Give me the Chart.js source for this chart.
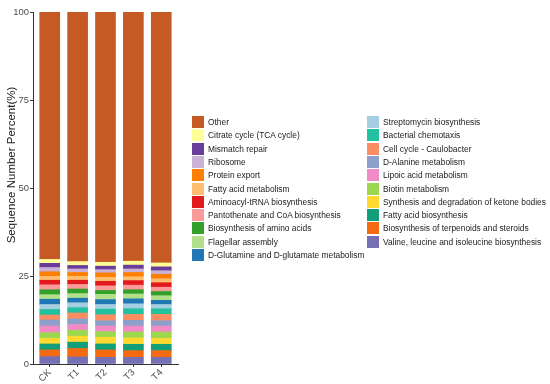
<!DOCTYPE html>
<html>
<head>
<meta charset="utf-8">
<script src="https://cdn.jsdelivr.net/npm/chart.js@4/dist/chart.umd.min.js"></script>
<style>
  html, body { margin: 0; padding: 0; background: #fff; }
  #wrap { position: relative; width: 550px; height: 384px; }
  #c { position: absolute; left: 0; top: 0; }
  .lg { position: absolute; font-family: "Liberation Sans", Arial, sans-serif; font-size: 8.4px; color: #1a1a1a; white-space: nowrap; line-height: 12px; }
  .lg span.box { position: absolute; left: 0; top: 0; width: 12px; height: 12px; }
  .lg span.txt { position: absolute; left: 16px; top: 0; }
</style>
</head>
<body>
<div id="wrap">
  <canvas id="c" width="550" height="384"></canvas>
</div>
<script>
// ---- DATA ----
const categories = ["CK", "T1", "T2", "T3", "T4"];

// series listed from the bottom of the stack to the top
const seriesNames = [
  "Valine, leucine and isoleucine biosynthesis",
  "Biosynthesis of terpenoids and steroids",
  "Fatty acid biosynthesis",
  "Synthesis and degradation of ketone bodies",
  "Biotin metabolism",
  "Lipoic acid metabolism",
  "D-Alanine metabolism",
  "Cell cycle - Caulobacter",
  "Bacterial chemotaxis",
  "Streptomycin biosynthesis",
  "D-Glutamine and D-glutamate metabolism",
  "Flagellar assembly",
  "Biosynthesis of amino acids",
  "Pantothenate and CoA biosynthesis",
  "Aminoacyl-tRNA biosynthesis",
  "Fatty acid metabolism",
  "Protein export",
  "Ribosome",
  "Mismatch repair",
  "Citrate cycle (TCA cycle)",
  "Other"
];

// percent values per sample, same order as seriesNames
const valuesCK = [2.1, 1.9, 1.7, 1.6, 1.6, 1.9, 1.7, 1.4, 1.6, 1.4, 1.5, 1.3, 1.4, 1.4, 1.3, 1.1, 1.3, 1.2, 1.2, 1.1, 70.3];
const valuesT1 = [2.0, 2.4, 1.8, 1.7, 1.7, 1.6, 1.6, 1.7, 1.5, 1.4, 1.3, 1.3, 1.3, 1.3, 1.2, 1.1, 1.1, 1.0, 1.0, 1.1, 70.9];
const valuesT2 = [1.9, 2.1, 1.7, 1.9, 1.6, 1.6, 1.5, 1.7, 1.6, 1.3, 1.4, 1.5, 1.1, 1.3, 1.3, 1.1, 1.3, 0.9, 1.0, 1.1, 71.1];
const valuesT3 = [1.9, 1.9, 1.8, 1.8, 1.7, 1.7, 1.6, 1.7, 1.6, 1.4, 1.4, 1.4, 1.2, 1.3, 1.3, 1.1, 1.2, 1.0, 1.1, 1.1, 70.8];
const valuesT4 = [1.9, 1.9, 1.8, 1.7, 1.8, 1.7, 1.5, 1.8, 1.6, 1.2, 1.2, 1.3, 1.2, 1.2, 1.3, 1.1, 1.3, 1.0, 1.1, 1.1, 71.3];

const yTicks = [0, 25, 50, 75, 100];
const yTitle = "Sequence Number Percent(%)";

// ---- STYLE ----
const colors = [
  "#7570B3", "#F56A10", "#129E78", "#FFD92F", "#9BD84E", "#F18BC6", "#8DA0CB",
  "#FC8D62", "#22C1A0", "#A6CEE3", "#1F78B4", "#B2DF8A", "#33A02C", "#FB9A99",
  "#E31A1C", "#FDBF6F", "#FF7F00", "#CAB2D6", "#6A3D9A", "#FFFF99", "#C55A24"
];

const sampleValues = [valuesCK, valuesT1, valuesT2, valuesT3, valuesT4];

const datasets = seriesNames.map((name, s) => ({
  label: name,
  data: categories.map((c, i) => ({ x: i, y: sampleValues[i][s] })),
  backgroundColor: colors[s],
  borderWidth: 0,
  barThickness: 20
}));

const yTitlePlugin = {
  id: "yTitle",
  afterDraw(chart) {
    const ctx = chart.ctx;
    ctx.save();
    ctx.translate(11.5, 165);
    ctx.rotate(-Math.PI / 2);
    ctx.font = "11.5px 'Liberation Sans', Arial, sans-serif";
    ctx.fillStyle = "#1a1a1a";
    ctx.textAlign = "center";
    ctx.textBaseline = "middle";
    ctx.fillText(yTitle, 0, 0);
    ctx.restore();
  }
};

new Chart(document.getElementById("c"), {
  type: "bar",
  data: { datasets },
  plugins: [yTitlePlugin],
  options: {
    responsive: false,
    animation: false,
    layout: { padding: { top: 12, right: 372, bottom: 0, left: 0 } },
    plugins: { legend: { display: false }, tooltip: { enabled: false } },
    scales: {
      x: {
        type: "linear",
        stacked: true,
        offset: false,
        min: -0.6,
        max: 4.6,
        afterBuildTicks(scale) { scale.ticks = categories.map((c, i) => ({ value: i })); },
        afterFit(scale) { scale.height = 20; },
        ticks: {
          callback: (v) => categories[v],
          minRotation: 45,
          maxRotation: 45,
          autoSkip: false,
          padding: 0,
          color: "#4d4d4d",
          font: { family: "'Liberation Sans', Arial, sans-serif", size: 9.5 }
        },
        grid: { offset: false, drawOnChartArea: false, drawTicks: true, tickLength: 3, color: "#333" },
        border: { display: true, color: "#333", width: 1 }
      },
      y: {
        stacked: true,
        min: 0,
        max: 100,
        afterBuildTicks(scale) { scale.ticks = yTicks.map(v => ({ value: v })); },
        afterFit(scale) { scale.width = 33; },
        ticks: {
          padding: 1,
          color: "#4d4d4d",
          font: { family: "'Liberation Sans', Arial, sans-serif", size: 9.5 }
        },
        grid: { drawOnChartArea: false, drawTicks: true, tickLength: 3, color: "#333" },
        border: { display: true, color: "#333", width: 1 }
      }
    }
  }
});

// ---- LEGEND (HTML, built from the same arrays) ----
const wrap = document.getElementById("wrap");
const order = seriesNames.map((n, i) => i).reverse();
order.forEach((s, k) => {
  const col = k < 11 ? 0 : 1;
  const row = k < 11 ? k : k - 11;
  const el = document.createElement("div");
  el.className = "lg";
  el.style.left = (col === 0 ? 192 : 367) + "px";
  el.style.top = (116 + row * 13.3) + "px";
  const box = document.createElement("span");
  box.className = "box";
  box.style.background = colors[s];
  const txt = document.createElement("span");
  txt.className = "txt";
  txt.textContent = seriesNames[s];
  el.appendChild(box);
  el.appendChild(txt);
  wrap.appendChild(el);
});
</script>
</body>
</html>
